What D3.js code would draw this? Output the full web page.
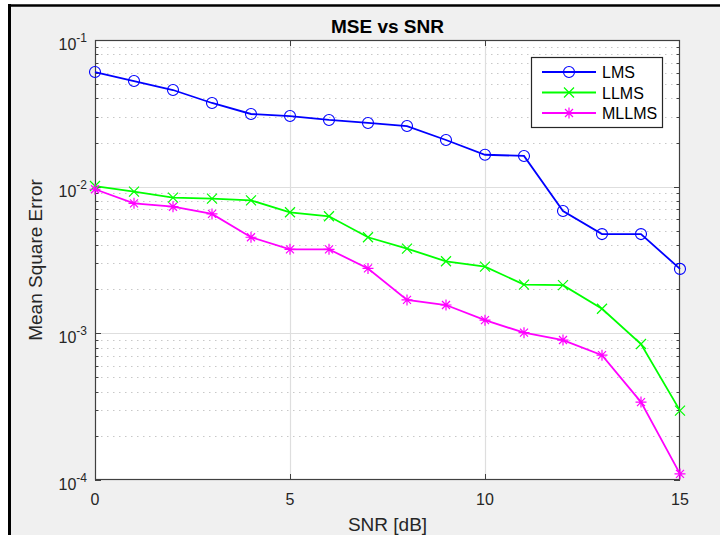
<!DOCTYPE html>
<html>
<head>
<meta charset="utf-8">
<script src="https://cdn.jsdelivr.net/npm/d3@7"></script>
<style>
  html, body { margin: 0; padding: 0; background: #fff; }
  svg { display: block; font-family: "Liberation Sans", Arial, sans-serif; }
</style>
</head>
<body>
<div id="chart"></div>
<script>
// SNR values (dB)
const snr = [0, 1, 2, 3, 4, 5, 6, 7, 8, 9, 10, 11, 12, 13, 14, 15];

// MSE per algorithm
const mseLMS = [0.0605, 0.0525, 0.0456, 0.0372, 0.0313, 0.0303, 0.0285, 0.0272,
                0.0259, 0.0208, 0.0165, 0.0162, 0.00683, 0.00475, 0.00475, 0.00275];
const mseLLMS = [0.0101, 0.00925, 0.00842, 0.00828, 0.00807, 0.00669, 0.00628, 0.00452,
                 0.00378, 0.0031, 0.00285, 0.00215, 0.00213, 0.00147, 0.000846, 0.000297];
const mseMLLMS = [0.0096, 0.0077, 0.0073, 0.00652, 0.00452, 0.00374, 0.00374, 0.00277,
                  0.00169, 0.00156, 0.00123, 0.00101, 0.0009, 0.00071, 0.00034, 0.00011];

const seriesNames = ['LMS', 'LLMS', 'MLLMS'];
const seriesColors = ['#0000ff', '#00ff00', '#ff00ff'];
const seriesMarkers = ['circle', 'cross', 'star'];

const xTicks = [0, 5, 10, 15];
const yDecades = [-4, -3, -2, -1];

const W = 720, H = 535;
const plot = { left: 95, right: 680, top: 40, bottom: 480 };

const svg = d3.select('#chart').append('svg')
    .attr('width', W)
    .attr('height', H);

// figure window background with the dark frame on top/left
svg.append('rect').attr('width', W).attr('height', H).attr('fill', '#ffffff');
svg.append('rect').attr('x', 9).attr('y', 5).attr('width', W - 9).attr('height', H - 5).attr('fill', '#f0f0f0');
svg.append('line').attr('x1', 9.5).attr('x2', 9.5).attr('y1', 4).attr('y2', H)
    .attr('stroke', '#000').attr('stroke-width', 3);
svg.append('line').attr('x1', 8).attr('x2', W).attr('y1', 5.5).attr('y2', 5.5)
    .attr('stroke', '#000').attr('stroke-width', 2.5);

const x = d3.scaleLinear().domain([0, 15]).range([plot.left, plot.right]);
const y = d3.scaleLog().domain([1e-4, 1e-1]).range([plot.bottom, plot.top]);

// plot background
svg.append('rect')
    .attr('x', plot.left).attr('y', plot.top)
    .attr('width', plot.right - plot.left).attr('height', plot.bottom - plot.top)
    .attr('fill', '#fff');

const grid = svg.append('g');

// minor y grid (dotted)
const minorVals = [];
yDecades.slice(0, 3).forEach(e => {
    for (let m = 2; m <= 9; m++) minorVals.push(m * Math.pow(10, e));
});
grid.selectAll('.minor').data(minorVals).enter().append('line')
    .attr('x1', plot.left).attr('x2', plot.right)
    .attr('y1', d => Math.round(y(d)) + 0.5).attr('y2', d => Math.round(y(d)) + 0.5)
    .attr('stroke', '#c8c8c8').attr('stroke-width', 1)
    .attr('stroke-dasharray', '1.5,4.5');

// major y grid
grid.selectAll('.majorY').data(yDecades.slice(1, 3)).enter().append('line')
    .attr('x1', plot.left).attr('x2', plot.right)
    .attr('y1', d => Math.round(y(Math.pow(10, d))) + 0.5)
    .attr('y2', d => Math.round(y(Math.pow(10, d))) + 0.5)
    .attr('stroke', '#dedede').attr('stroke-width', 1.2);

// major x grid
grid.selectAll('.majorX').data(xTicks.slice(1, 3)).enter().append('line')
    .attr('x1', d => Math.round(x(d)) + 0.5).attr('x2', d => Math.round(x(d)) + 0.5)
    .attr('y1', plot.top).attr('y2', plot.bottom)
    .attr('stroke', '#dedede').attr('stroke-width', 1.2);

// axes box + ticks
const axisColor = '#404040';
const ax = svg.append('g').attr('stroke', axisColor).attr('fill', 'none');
ax.append('rect')
    .attr('x', plot.left + 0.5).attr('y', plot.top + 0.5)
    .attr('width', plot.right - plot.left - 1).attr('height', plot.bottom - plot.top - 1)
    .attr('stroke-width', 1.2);

const tickLen = 6, minorLen = 3.5;
xTicks.slice(1, 3).forEach(t => {
    const px = Math.round(x(t)) + 0.5;
    ax.append('line').attr('x1', px).attr('x2', px).attr('y1', plot.bottom).attr('y2', plot.bottom - tickLen);
    ax.append('line').attr('x1', px).attr('x2', px).attr('y1', plot.top).attr('y2', plot.top + tickLen);
});
yDecades.forEach(e => {
    const py = Math.round(y(Math.pow(10, e))) + 0.5;
    ax.append('line').attr('x1', plot.left).attr('x2', plot.left + tickLen).attr('y1', py).attr('y2', py);
    ax.append('line').attr('x1', plot.right).attr('x2', plot.right - tickLen).attr('y1', py).attr('y2', py);
});
minorVals.forEach(v => {
    const py = Math.round(y(v)) + 0.5;
    ax.append('line').attr('x1', plot.left).attr('x2', plot.left + minorLen).attr('y1', py).attr('y2', py);
    ax.append('line').attr('x1', plot.right).attr('x2', plot.right - minorLen).attr('y1', py).attr('y2', py);
});

// tick labels
const labelColor = '#262626';
svg.selectAll('.xlab').data(xTicks).enter().append('text')
    .attr('x', d => x(d)).attr('y', plot.bottom + 25)
    .attr('text-anchor', 'middle')
    .attr('font-size', 16).attr('fill', labelColor)
    .text(d => d);

yDecades.forEach(e => {
    const py = y(Math.pow(10, e));
    const t = svg.append('text')
        .attr('x', 87).attr('y', py + 10)
        .attr('text-anchor', 'end')
        .attr('font-size', 16).attr('fill', labelColor);
    t.append('tspan').text('10');
    t.append('tspan').attr('font-size', 12).attr('dy', -8).text('-' + Math.abs(e));
});

// axis titles
svg.append('text')
    .attr('x', (plot.left + plot.right) / 2).attr('y', 531)
    .attr('text-anchor', 'middle')
    .attr('font-size', 19).attr('fill', labelColor)
    .text('SNR [dB]');

svg.append('text')
    .attr('transform', `translate(42,${(plot.top + plot.bottom) / 2}) rotate(-90)`)
    .attr('text-anchor', 'middle')
    .attr('font-size', 19).attr('fill', labelColor)
    .text('Mean Square Error');

svg.append('text')
    .attr('x', (plot.left + plot.right) / 2).attr('y', 33)
    .attr('text-anchor', 'middle')
    .attr('font-size', 19).attr('font-weight', 'bold').attr('fill', '#000')
    .text('MSE vs SNR');

// markers
function drawMarker(g, type, cx, cy, color) {
    if (type === 'circle') {
        g.append('circle').attr('cx', cx).attr('cy', cy).attr('r', 5.5)
            .attr('fill', 'none').attr('stroke', color).attr('stroke-width', 1.1);
    } else if (type === 'cross') {
        const s = 5;
        g.append('path')
            .attr('d', `M${cx - s},${cy - s}L${cx + s},${cy + s}M${cx - s},${cy + s}L${cx + s},${cy - s}`)
            .attr('stroke', color).attr('stroke-width', 1.2).attr('fill', 'none');
    } else {
        const s = 5.5, d = 4;
        g.append('path')
            .attr('d', `M${cx},${cy - s}L${cx},${cy + s}M${cx - s},${cy}L${cx + s},${cy}` +
                       `M${cx - d},${cy - d}L${cx + d},${cy + d}M${cx - d},${cy + d}L${cx + d},${cy - d}`)
            .attr('stroke', color).attr('stroke-width', 1.2).attr('fill', 'none');
    }
}

const allSeries = [mseLMS, mseLLMS, mseMLLMS];
const line = d3.line().x(d => x(d[0])).y(d => y(d[1]));

allSeries.forEach((vals, i) => {
    const pts = snr.map((s, k) => [s, vals[k]]);
    const g = svg.append('g');
    g.append('path')
        .attr('d', line(pts))
        .attr('fill', 'none')
        .attr('stroke', seriesColors[i])
        .attr('stroke-width', 1.8);
    pts.forEach(p => drawMarker(g, seriesMarkers[i], x(p[0]), y(p[1]), seriesColors[i]));
});

// legend
const lg = svg.append('g');
lg.append('rect')
    .attr('x', 531.5).attr('y', 57.5).attr('width', 131).attr('height', 70)
    .attr('fill', '#fff').attr('stroke', '#262626').attr('stroke-width', 1.2);
seriesNames.forEach((name, i) => {
    const ly = 72 + i * 20.5;
    lg.append('line').attr('x1', 542).attr('x2', 596).attr('y1', ly).attr('y2', ly)
        .attr('stroke', seriesColors[i]).attr('stroke-width', 1.8);
    drawMarker(lg, seriesMarkers[i], 569, ly, seriesColors[i]);
    lg.append('text').attr('x', 602).attr('y', ly + 6)
        .attr('font-size', 16).attr('fill', '#000').text(name);
});
</script>
</body>
</html>
